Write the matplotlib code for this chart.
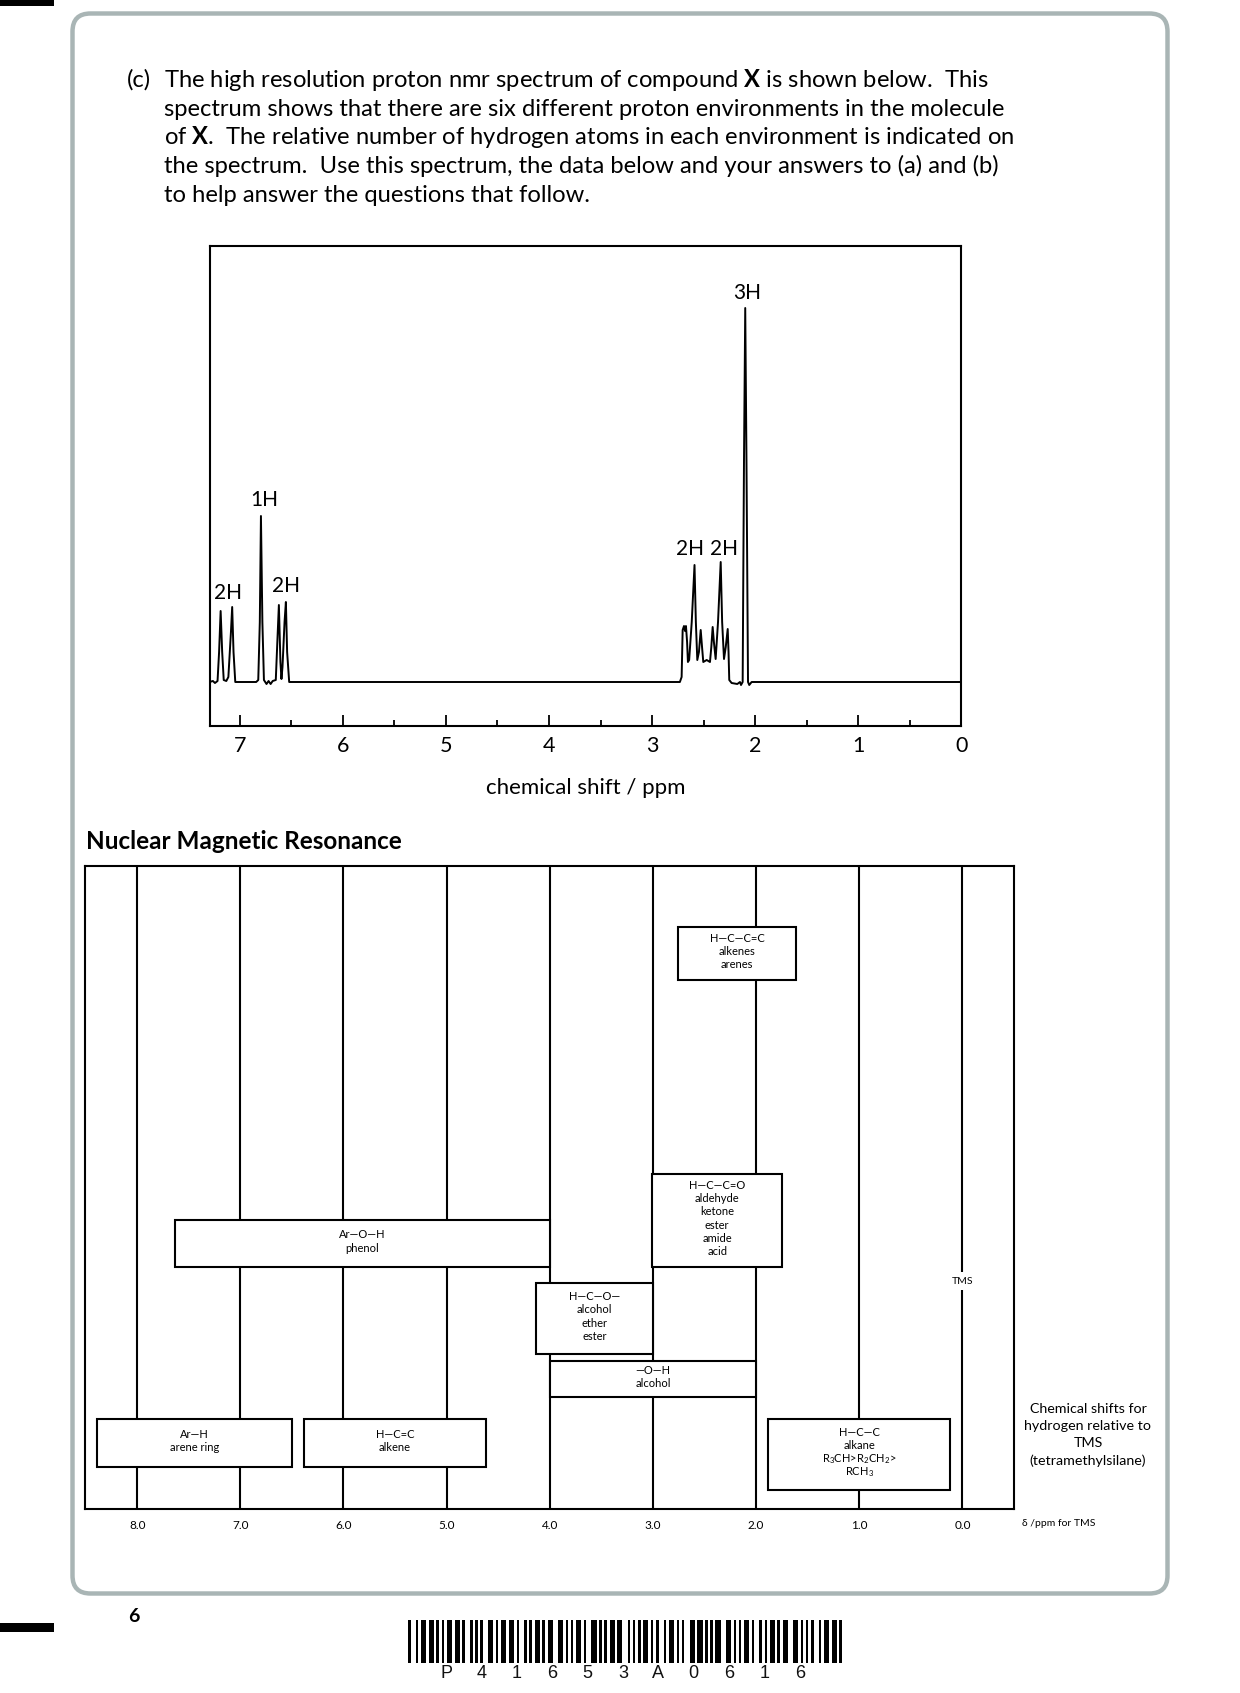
import matplotlib
matplotlib.use('Agg')
import matplotlib.pyplot as plt
from matplotlib.patches import FancyBboxPatch, Rectangle

plt.rcParams['font.family'] = ['Lato', 'DejaVu Sans']
plt.rcParams['mathtext.fontset'] = 'custom'
plt.rcParams['mathtext.rm'] = 'Lato'
plt.rcParams['mathtext.it'] = 'Lato:italic'
plt.rcParams['mathtext.bf'] = 'Lato:bold'

# ---------------- data ----------------
paragraph_lines = [
    r"The high resolution proton nmr spectrum of compound $\mathbf{X}$ is shown below.  This",
    "spectrum shows that there are six different proton environments in the molecule",
    r"of $\mathbf{X}$.  The relative number of hydrogen atoms in each environment is indicated on",
    "the spectrum.  Use this spectrum, the data below and your answers to (a) and (b)",
    "to help answer the questions that follow.",
]

# spectrum trace vertices (ppm, relative intensity)
trace_ppm = [7.293, 7.26, 7.24, 7.215, 7.20, 7.185, 7.17, 7.155, 7.13, 7.11, 7.085, 7.073, 7.06, 7.043,
             6.84, 6.82, 6.805, 6.794, 6.78, 6.765, 6.74, 6.72, 6.70, 6.68, 6.65, 6.635, 6.620, 6.605,
             6.595, 6.585, 6.565, 6.552, 6.54, 6.52,
             2.73, 2.713, 2.703, 2.690, 2.680, 2.671, 2.66, 2.652, 2.64, 2.615, 2.588, 2.575, 2.561,
             2.545, 2.528, 2.515, 2.503, 2.47, 2.438, 2.425, 2.412, 2.40, 2.383, 2.36, 2.334, 2.32,
             2.302, 2.285, 2.266, 2.258, 2.251, 2.228, 2.173, 2.147, 2.137, 2.121, 2.108, 2.096,
             2.084, 2.069, 2.057, 2.034, 0.0]
trace_int = [0, 1, -1, 1, 30, 71, 30, 2, 1, 5, 50, 75, 30, 0,
             0, 2, 60, 166, 60, 2, -2, 1, -2, 1, 2, 40, 77, 20,
             3, 15, 60, 80, 30, 0,
             0, 5, 52, 56, 51, 56, 40, 20, 22, 60, 117, 60, 22,
             30, 52, 35, 20, 22, 20, 35, 55, 40, 23, 60, 120, 60,
             23, 35, 53, 30, 2, -1, -2, 0, -3, 0, 222, 374,
             222, 0, -3, 0, 0]

peak_labels = ["2H", "1H", "2H", "2H", "2H", "3H"]
peak_label_ppm = [7.112, 6.765, 6.555, 2.632, 2.300, 2.076]
peak_label_int = [89, 182, 96, 133, 133, 389]

spec_ticks = [7, 6, 5, 4, 3, 2, 1, 0]
spec_minor = [6.5, 5.5, 4.5, 3.5, 2.5, 1.5, 0.5]

# correlation chart
chart_ticks = [8.0, 7.0, 6.0, 5.0, 4.0, 3.0, 2.0, 1.0, 0.0]
chart_tick_labels = ["8.0", "7.0", "6.0", "5.0", "4.0", "3.0", "2.0", "1.0", "0.0"]
box_labels = [
    ["H—C—C=C", "alkenes", "arenes"],
    ["H—C—C=O", "aldehyde", "ketone", "ester", "amide", "acid"],
    ["Ar—O—H", "phenol"],
    ["H—C—O—", "alcohol", "ether", "ester"],
    ["—O—H", "alcohol"],
    ["Ar—H", "arene ring"],
    ["H—C=C", "alkene"],
    ["H—C—C", "alkane", r"R$_3$CH>R$_2$CH$_2$>", r"RCH$_3$"],
]
box_ppm_high = [2.756, 3.005, 7.637, 4.129, 4.0, 8.391, 6.383, 1.883]
box_ppm_low = [1.614, 1.750, 4.0, 3.004, 2.0, 6.498, 4.621, 0.120]

side_note = ["Chemical shifts for", "hydrogen relative to", "TMS", "(tetramethylsilane)"]

barcode_text = "P41653A0616"
code39 = {
    '0': '101001101101', '1': '110100101011', '2': '101100101011', '3': '110110010101',
    '4': '101001101011', '5': '110100110101', '6': '101100110101', '7': '101001011011',
    '8': '110100101101', '9': '101100101101', 'A': '110101001011', 'P': '101101101001',
    '*': '100101101101',
}

# ---------------- layout ----------------
W, H = 1240, 1693
fig = plt.figure(figsize=(W / 100, H / 100), dpi=100)

def fx(x):
    return x / W

def fy(y):
    return 1 - y / H

# background / page furniture
bg = fig.add_axes([0, 0, 1, 1])
bg.set_xlim(0, W)
bg.set_ylim(H, 0)
bg.axis('off')
bg.add_patch(FancyBboxPatch((72.5, 13.5), 1095, 1580, boxstyle="round,pad=0,rounding_size=18",
                            ec='#a9b5b5', fc='none', lw=3.2))
bg.add_patch(Rectangle((0, 0), 54, 5.5, color='black', lw=0))
bg.add_patch(Rectangle((0, 1623), 54, 9, color='black', lw=0))

# barcode
bits = '0'.join(code39[c] for c in '*' + barcode_text + '*')
bx0, bx1, by0, bh = 408, 842, 1620, 43
mod = (bx1 - bx0) / len(bits)
i = 0
while i < len(bits):
    if bits[i] == '1':
        j = i
        while j < len(bits) and bits[j] == '1':
            j += 1
        bg.add_patch(Rectangle((bx0 + i * mod, by0), (j - i) * mod, bh, color='black', lw=0))
        i = j
    else:
        i += 1
for k, ch in enumerate(barcode_text):
    bg.text(446 + k * 35.4, 1673, ch, ha='center', va='center', fontsize=13,
            family='Liberation Sans', color='#111111')
bg.text(134, 1617, "6", ha='center', va='center', fontsize=14, fontweight='bold')

# paragraph
para_base = [87, 116, 144, 173, 202]
ptexts = []
for line, yb in zip(paragraph_lines, para_base):
    ptexts.append(fig.text(fx(164), fy(yb), line, ha='left', va='baseline', fontsize=16))
ctext = fig.text(fx(127), fy(para_base[0]), "(c)", ha='left', va='baseline', fontsize=16)

# spectrum axes
ax = fig.add_axes([fx(209.5), fy(726), fx(961.3 - 209.5), (726 - 246) / H])
ax.plot(trace_ppm, trace_int, color='black', lw=1.4, solid_joinstyle='round')
ax.set_xlim(7.293, 0.0)
ax.set_ylim(-44, 436)
ax.set_yticks([])
ax.set_xticks(spec_ticks, labels=[str(t) for t in spec_ticks])
ax.set_xticks(spec_minor, minor=True)
ax.tick_params(axis='x', which='major', direction='in', length=8, width=1.3, labelsize=15.5, pad=7)
ax.tick_params(axis='x', which='minor', direction='in', length=4, width=1.3)
for s in ax.spines.values():
    s.set_linewidth(1.5)
for lab, p, v in zip(peak_labels, peak_label_ppm, peak_label_int):
    ax.text(p, v, lab, ha='center', va='center', fontsize=15)
ax.set_xlabel("chemical shift / ppm", fontsize=16, labelpad=16)

# correlation chart
fig.text(fx(86), fy(849), "Nuclear Magnetic Resonance", ha='left', va='baseline',
         fontsize=17.5, fontweight='bold')
ax2 = fig.add_axes([fx(85.3), fy(1509), fx(1014.2 - 85.3), (1509 - 866) / H])
ax2.set_xlim(8.503, -0.502)
ax2.set_ylim(1509, 866)
ax2.set_yticks([])
ax2.set_xticks(chart_ticks, labels=chart_tick_labels)
ax2.tick_params(axis='x', length=0, labelsize=8.5, pad=8)
for s in ax2.spines.values():
    s.set_linewidth(1.5)
    s.set_zorder(5)
for t in chart_ticks:
    ax2.axvline(t, color='black', lw=1.5, zorder=1)

box_rows = [(927, 980), (1174, 1267), (1220, 1267), (1283, 1354), (1361, 1397),
            (1419, 1467), (1419, 1467), (1419, 1490)]
line_step = 13.2
for labs, hi, lo, (top, bot) in zip(box_labels, box_ppm_high, box_ppm_low, box_rows):
    ax2.add_patch(Rectangle((lo, top), hi - lo, bot - top, fc='white', ec='black', lw=1.5, zorder=3))
    xc = (hi + lo) / 2
    yc = (top + bot) / 2 - 2
    n = len(labs)
    for k, s in enumerate(labs):
        ax2.text(xc, yc + (k - (n - 1) / 2) * line_step, s, ha='center', va='center',
                 fontsize=8, zorder=4)
ax2.text(0.0, 1281, "TMS", ha='center', va='center', fontsize=7.5, zorder=4,
         bbox=dict(fc='white', ec='none', pad=3))

for k, s in enumerate(side_note):
    fig.text(fx(1088), fy(1409 + k * 17.2), s, ha='center', va='center', fontsize=10.3)
fig.text(fx(1022), fy(1524), "δ /ppm for TMS", ha='left', va='center', fontsize=7.5)

# fit paragraph width to the reference
fig.canvas.draw()
r = fig.canvas.get_renderer()
targets = [829, 843, 852, 842]
scales = [tw / t.get_window_extent(r).width for tw, t in zip(targets, ptexts[:4])]
sc = sum(scales) / len(scales)
for t in ptexts + [ctext]:
    t.set_fontsize(t.get_fontsize() * sc)

fig.savefig('out.png', dpi=100)
